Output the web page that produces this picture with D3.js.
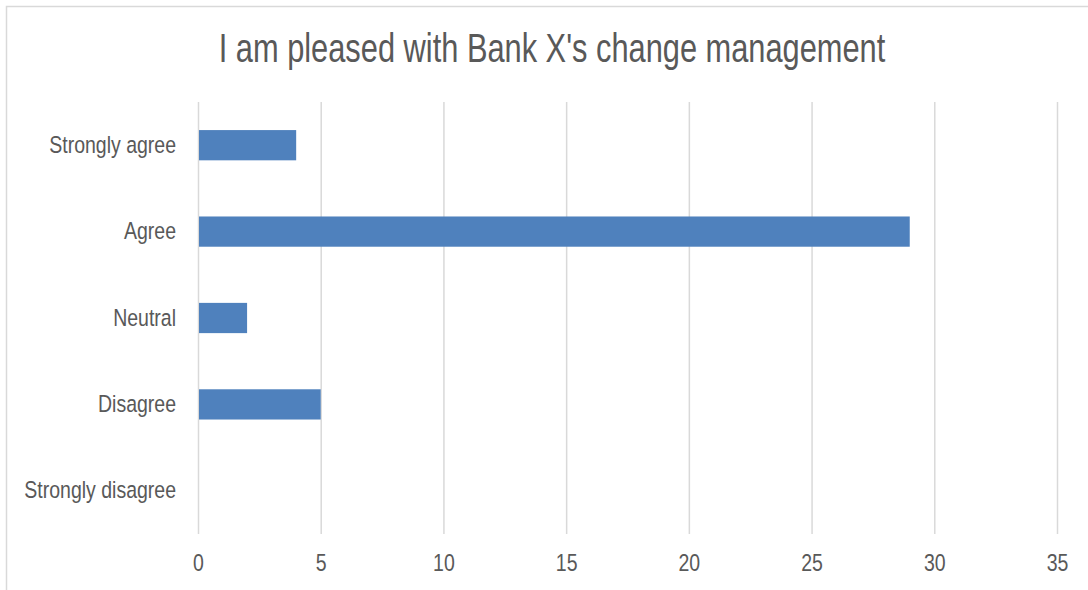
<!DOCTYPE html>
<html><head><meta charset="utf-8">
<script src="https://cdn.jsdelivr.net/npm/d3@7"></script>
<style>
body{margin:0;background:#fff;}
svg{display:block;}
text{font-family:"Liberation Sans",Arial,sans-serif;fill:#595959;}
</style></head><body>
<svg id="c" width="1088" height="590"></svg>
<script>
const title = "I am pleased with Bank X's change management";
const categories = ["Strongly agree","Agree","Neutral","Disagree","Strongly disagree"];
const values = [4,29,2,5,0];
const ticks = [0,5,10,15,20,25,30,35];

const svg = d3.select("#c");
svg.append("rect").attr("x",6.5).attr("y",6.5).attr("width",1092).attr("height",600)
  .attr("fill","#fff").attr("stroke","#d9d9d9").attr("stroke-width",1.5);

const x = d3.scaleLinear().domain([0,35]).range([198,1057]);
const y = d3.scaleBand().domain(categories).range([102,534]).paddingInner(0.65).paddingOuter(0.325);

svg.append("text").attr("transform","translate(552,62) scale(0.77,1)").attr("text-anchor","middle")
  .style("font-size","40px").text(title);

const g = svg.append("g");
g.selectAll("line.grid").data(ticks).join("line").attr("class","grid")
  .attr("x1",d=>x(d)+0.5).attr("x2",d=>x(d)+0.5).attr("y1",102).attr("y2",534)
  .attr("stroke","#d9d9d9").attr("stroke-width",1.5);

g.selectAll("rect.bar").data(values).join("rect").attr("class","bar")
  .attr("x",x(0)+1).attr("y",(d,i)=>y(categories[i]))
  .attr("width",d=>Math.max(0,x(d)-x(0)-1)).attr("height",y.bandwidth())
  .attr("fill","#4f81bd");

const sx = 0.83;
const xa = svg.append("g").attr("transform","translate(0,534)")
  .call(d3.axisBottom(x).tickValues(ticks).tickSize(0).tickPadding(20));
xa.select(".domain").remove();
xa.selectAll("text").style("font-size","23.5px").attr("fill","#595959")
  .attr("transform",`scale(${sx},1)`);

const ya = svg.append("g").attr("transform","translate(198,0)")
  .call(d3.axisLeft(y).tickSize(0).tickPadding(22));
ya.select(".domain").remove();
ya.selectAll("text").style("font-size","23.5px").attr("fill","#595959")
  .attr("x",0).attr("transform",`translate(-22,0) scale(${sx},1)`);
</script></body></html>
